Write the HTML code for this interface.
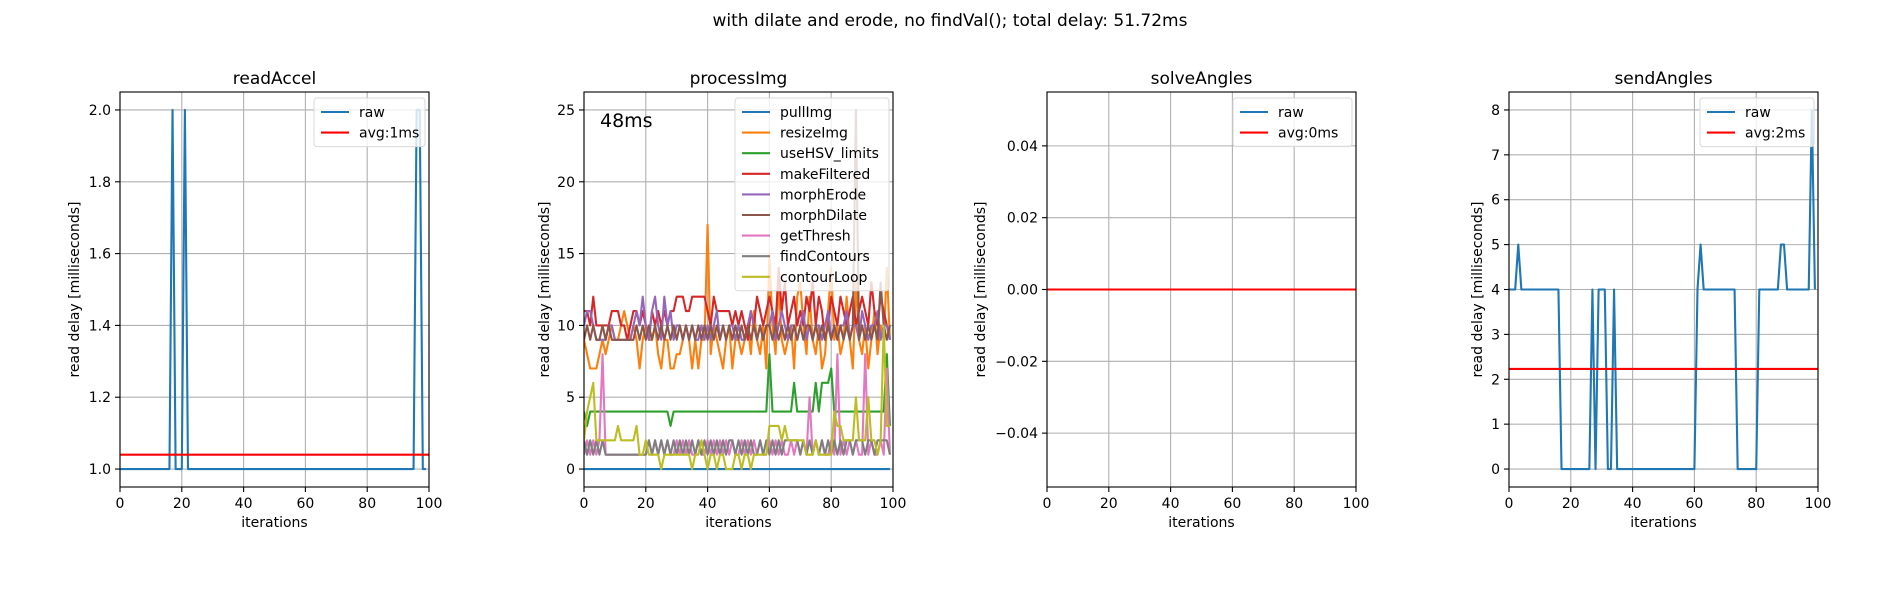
<!DOCTYPE html>
<html><head><meta charset="utf-8">
<style>
html,body{margin:0;padding:0;background:#fff;}
svg{display:block;font-family:"DejaVu Sans","Liberation Sans",sans-serif;}
</style></head>
<body>
<svg id="fig" width="1900" height="600" viewBox="0 0 1900 600" xmlns="http://www.w3.org/2000/svg">
<rect width="1900" height="600" fill="#fff"/>
<text x="950" y="26" font-size="17" text-anchor="middle" fill="#000">with dilate and erode, no findVal(); total delay: 51.72ms</text>
</svg>
<script>
// ---- data ----
const xTicks = [0,20,40,60,80,100];
const accelRaw = [1,1,1,1,1,1,1,1,1,1,1,1,1,1,1,1,1,2,1,1,1,2,1,1,1,1,1,1,1,1,1,1,1,1,1,1,1,1,1,1,1,1,1,1,1,1,1,1,1,1,1,1,1,1,1,1,1,1,1,1,1,1,1,1,1,1,1,1,1,1,1,1,1,1,1,1,1,1,1,1,1,1,1,1,1,1,1,1,1,1,1,1,1,1,1,1,2,2,1,1];
const accelAvg = 1.04;
const accelTicks = [1.0,1.2,1.4,1.6,1.8,2.0];
const accelTickLabels = ["1.0","1.2","1.4","1.6","1.8","2.0"];

const pullImg = [0,0,0,0,0,0,0,0,0,0,0,0,0,0,0,0,0,0,0,0,0,0,0,0,0,0,0,0,0,0,0,0,0,0,0,0,0,0,0,0,0,0,0,0,0,0,0,0,0,0,0,0,0,0,0,0,0,0,0,0,0,0,0,0,0,0,0,0,0,0,0,0,0,0,0,0,0,0,0,0,0,0,0,0,0,0,0,0,0,0,0,0,0,0,0,0,0,0,0,0];
const resizeImg = [9,8,7,7,7,8,9,8,9,10,9,9,10,11,10,9,10,9,7,9,10,9,9,10,8,7,9,9,7,7,8,8,9,10,9,7,9,7,9,9,17,8,10,9,8,7,9,10,7,9,9,8,9,10,8,11,9,8,10,7,15,10,8,13,9,8,9,10,7,12,13,10,8,12,9,8,10,7,8,11,14,9,10,8,9,12,9,7,13,9,8,10,7,9,11,8,10,9,14,9];
const useHSV = [4,3,4,4,4,4,4,4,4,4,4,4,4,4,4,4,4,4,4,4,4,4,4,4,4,4,4,4,3,4,4,4,4,4,4,4,4,4,4,4,4,4,4,4,4,4,4,4,4,4,4,4,4,4,4,4,4,4,4,4,8,4,4,4,4,4,4,4,6,4,4,4,4,4,4,6,4,6,6,6,7,4,4,4,4,4,4,4,4,4,4,4,4,4,4,4,4,4,8,3];
const makeFiltered = [11,11,10,12,10,10,10,10,10,11,11,11,10,10,9,10,11,11,10,11,10,9,11,10,11,10,11,10,11,11,12,12,12,11,11,12,12,12,12,12,11,10,12,11,11,11,11,11,10,11,10,11,10,9,11,10,12,11,10,11,12,11,10,14,11,13,10,11,12,10,11,10,12,11,13,10,12,11,9,10,12,11,10,12,11,10,11,12,10,11,12,11,10,13,11,10,12,11,10,9];
const morphErode = [10,11,11,10,9,9,9,9,10,10,9,9,9,9,9,9,10,11,10,12,10,9,11,12,10,9,12,10,11,9,10,10,9,10,9,10,9,9,10,9,10,9,10,11,9,10,9,10,10,9,10,9,9,10,11,10,9,10,9,10,10,11,9,10,11,10,9,10,10,9,10,11,9,10,9,10,10,9,10,11,9,10,9,10,10,11,9,10,10,9,11,10,9,10,10,11,9,10,10,9];
const morphDilate = [9,10,9,10,9,9,10,9,10,9,9,9,9,9,9,9,9,10,9,10,9,10,9,10,9,10,9,10,9,10,9,10,9,10,9,10,9,10,9,10,9,10,9,10,9,10,9,10,9,10,9,10,9,10,9,10,9,10,9,10,10,9,10,9,10,9,10,9,10,9,10,9,10,10,9,10,9,10,9,10,9,10,9,10,9,10,9,10,25,9,10,9,10,9,10,9,13,10,9,10];
const getThresh = [1,2,1,2,1,2,8,1,1,1,1,1,1,1,1,1,1,1,1,1,1,2,1,2,1,2,1,2,1,1,2,1,2,1,2,1,1,2,1,1,2,1,2,1,2,1,2,1,2,1,1,2,1,2,1,2,1,2,1,1,2,1,2,1,2,1,1,2,1,2,1,2,1,5,1,2,1,2,1,1,2,1,8,1,2,1,2,1,2,1,1,8,1,2,1,1,2,1,7,1];
const findContours = [2,1,2,1,2,1,2,1,1,1,1,1,1,1,1,1,1,1,1,1,1,2,1,2,1,2,1,2,1,2,1,2,1,2,1,2,1,2,1,2,1,2,1,2,1,2,1,2,2,1,2,1,2,1,2,1,1,2,1,2,1,2,1,2,1,2,2,2,2,2,1,2,1,2,1,2,1,2,1,2,1,2,1,2,1,2,2,1,2,2,2,1,2,2,1,2,2,2,2,1];
const contourLoop = [2,4,5,6,2,2,2,2,2,2,2,3,2,2,2,2,2,3,1,1,2,1,1,1,1,0,1,1,1,1,1,1,1,1,1,0,1,1,2,1,0,1,1,0,1,1,0,0,0,1,1,0,1,1,0,1,1,1,1,1,3,3,3,3,2,3,2,2,2,2,2,2,1,1,1,2,1,1,1,1,1,4,3,3,2,2,2,2,5,2,2,2,5,2,2,1,2,10,3,3];
const procNames = ["pullImg","resizeImg","useHSV_limits","makeFiltered","morphErode","morphDilate","getThresh","findContours","contourLoop"];
const procTicks = [0,5,10,15,20,25];
const procTickLabels = ["0","5","10","15","20","25"];
const procTotal = "48ms";

const solveRaw = [0,0,0,0,0,0,0,0,0,0,0,0,0,0,0,0,0,0,0,0,0,0,0,0,0,0,0,0,0,0,0,0,0,0,0,0,0,0,0,0,0,0,0,0,0,0,0,0,0,0,0,0,0,0,0,0,0,0,0,0,0,0,0,0,0,0,0,0,0,0,0,0,0,0,0,0,0,0,0,0,0,0,0,0,0,0,0,0,0,0,0,0,0,0,0,0,0,0,0,0];
const solveAvg = 0;
const solveTicks = [-0.04,-0.02,0,0.02,0.04];
const solveTickLabels = ["\u22120.04","\u22120.02","0.00","0.02","0.04"];

const sendRaw = [4,4,4,5,4,4,4,4,4,4,4,4,4,4,4,4,4,0,0,0,0,0,0,0,0,0,0,4,0,4,4,4,0,0,4,0,0,0,0,0,0,0,0,0,0,0,0,0,0,0,0,0,0,0,0,0,0,0,0,0,0,4,5,4,4,4,4,4,4,4,4,4,4,4,0,0,0,0,0,0,0,4,4,4,4,4,4,4,5,5,4,4,4,4,4,4,4,4,8,4];
const sendAvg = 2.23;
const sendTicks = [0,1,2,3,4,5,6,7,8];
const sendTickLabels = ["0","1","2","3","4","5","6","7","8"];

const colors = ["#1f77b4","#ff7f0e","#2ca02c","#d62728","#9467bd","#8c564b","#e377c2","#7f7f7f","#bcbd22"];
// ---- drawing ----
const NS = "http://www.w3.org/2000/svg";
const svg = document.getElementById("fig");
const TOP = 92, H = 395, W = 309;
function mk(tag, attrs, parent){const e=document.createElementNS(NS,tag);for(const k in attrs)e.setAttribute(k,attrs[k]);(parent||svg).appendChild(e);return e;}

function panel(o){
  const g = mk("g",{});
  
  
  const xs = v => o.left + v/100*W;
  const ys = v => TOP + H - (v-o.ymin)/(o.ymax-o.ymin)*H;
  // grid
  xTicks.forEach(t=>{const l=mk("line",{x1:xs(t),x2:xs(t),y1:TOP,y2:TOP+H,stroke:"#b0b0b0","stroke-width":1.1},g);
    });
  o.ticks.forEach(t=>{const l=mk("line",{x1:o.left,x2:o.left+W,y1:ys(t),y2:ys(t),stroke:"#b0b0b0","stroke-width":1.1},g);
    });
  // clip
  const cid = "clip-"+o.name;
  const cp = mk("clipPath",{id:cid},g); mk("rect",{x:o.left,y:TOP,width:W,height:H},cp);
  const dg = mk("g",{"clip-path":"url(#"+cid+")"},g);
  o.series.forEach(s=>{
    const pts = s.data.map((v,i)=>xs(i).toFixed(2)+","+ys(v).toFixed(2)).join(" ");
    const p = mk("polyline",{points:pts,fill:"none",stroke:s.color,"stroke-width":2.1,"stroke-linejoin":"round"},dg);
    
    
  });
  if(o.avg!==undefined){
    const a = mk("line",{x1:o.left,x2:o.left+W,y1:ys(o.avg),y2:ys(o.avg),stroke:"#ff0000","stroke-width":2.1},dg);
    
    
  }
  // frame
  const fr = mk("rect",{x:o.left,y:TOP,width:W,height:H,fill:"none",stroke:"#000","stroke-width":1.1},g);
  
  // x ticks
  xTicks.forEach(t=>{mk("line",{x1:xs(t),x2:xs(t),y1:TOP+H,y2:TOP+H+5,stroke:"#000","stroke-width":1.1},g);
    const tx=mk("text",{x:xs(t),y:TOP+H+21,"font-size":14,"text-anchor":"middle"},g);tx.textContent=String(t);
    });
  o.ticks.forEach((t,i)=>{mk("line",{x1:o.left-5,x2:o.left,y1:ys(t),y2:ys(t),stroke:"#000","stroke-width":1.1},g);
    const tx=mk("text",{x:o.left-9,y:ys(t)+5,"font-size":14,"text-anchor":"end"},g);tx.textContent=o.tickLabels[i];
    });
  const xl=mk("text",{x:o.left+W/2,y:TOP+H+40,"font-size":14,"text-anchor":"middle"},g);xl.textContent="iterations";
  
  const yx=o.ylabelX, yy=TOP+H/2;
  const yl=mk("text",{x:yx,y:yy,"font-size":14,"text-anchor":"middle",transform:"rotate(-90 "+yx+" "+yy+")"},g);yl.textContent="read delay [milliseconds]";
  
  const tt=mk("text",{x:o.left+W/2,y:TOP-8,"font-size":17,"text-anchor":"middle"},g);tt.textContent=o.title;
  
  // legend
  const lg = mk("g",{},g);
  
  const n=o.legend.length, lh=14+ (n-1)*20.6 + 14;
  mk("rect",{x:o.legX,y:98,width:o.left+W-4-o.legX,height:lh,rx:3,fill:"rgba(255,255,255,0.8)",stroke:"#d9d9d9","stroke-width":1},lg);
  o.legend.forEach((e,i)=>{
    const y=98+14+i*20.6;
    const ln=mk("line",{x1:o.legX+7,x2:o.legX+35,y1:y,y2:y,stroke:e.color,"stroke-width":2.1},lg);
    
    const t=mk("text",{x:o.legX+45,y:y+5,"font-size":14},lg);t.textContent=e.label;
    
  });
  return {xs,ys,g};
}

panel({name:"readAccel",title:"readAccel",left:120,ymin:0.95,ymax:2.05,ticks:accelTicks,tickLabels:accelTickLabels,ylabelX:79,
  series:[{label:"raw",data:accelRaw,color:colors[0]}],avg:accelAvg,legX:314,
  legend:[{label:"raw",color:colors[0]},{label:"avg:"+Math.round(accelAvg)+"ms",color:"#ff0000"}]});

const procSeries=[pullImg,resizeImg,useHSV,makeFiltered,morphErode,morphDilate,getThresh,findContours,contourLoop];
const p2 = panel({name:"processImg",title:"processImg",left:584,ymin:-1.25,ymax:26.25,ticks:procTicks,tickLabels:procTickLabels,ylabelX:549,
  series:procSeries.map((d,i)=>({label:procNames[i],data:d,color:colors[i]})),legX:735,
  legend:procNames.map((nm,i)=>({label:nm,color:colors[i]}))});
const tot=mk("text",{x:600,y:127,"font-size":19},p2.g);tot.textContent=procTotal;



panel({name:"solveAngles",title:"solveAngles",left:1047,ymin:-0.055,ymax:0.055,ticks:solveTicks,tickLabels:solveTickLabels,ylabelX:985,
  series:[{label:"raw",data:solveRaw,color:colors[0]}],avg:solveAvg,legX:1233,
  legend:[{label:"raw",color:colors[0]},{label:"avg:"+Math.round(solveAvg)+"ms",color:"#ff0000"}]});

panel({name:"sendAngles",title:"sendAngles",left:1509,ymin:-0.4,ymax:8.4,ticks:sendTicks,tickLabels:sendTickLabels,ylabelX:1482,
  series:[{label:"raw",data:sendRaw,color:colors[0]}],avg:sendAvg,legX:1700,
  legend:[{label:"raw",color:colors[0]},{label:"avg:"+Math.round(sendAvg)+"ms",color:"#ff0000"}]});
</script>
</body></html>
